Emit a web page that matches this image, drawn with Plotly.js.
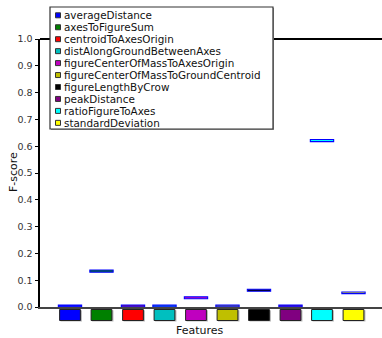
<!DOCTYPE html>
<html>
<head>
<meta charset="utf-8">
<script src="https://cdn.plot.ly/plotly-3.0.1.min.js"></script>
<style>html,body{margin:0;padding:0;background:#fff;}#chart{width:382px;height:338px;}</style>
</head>
<body>
<div id="chart"></div>
<script>
// ---- data ----
const features = ["averageDistance","axesToFigureSum","centroidToAxesOrigin","distAlongGroundBetweenAxes","figureCenterOfMassToAxesOrigin","figureCenterOfMassToGroundCentroid","figureLengthByCrow","peakDistance","ratioFigureToAxes","standardDeviation"];
const colors = ["#0000ff","#008000","#ff0000","#00bfbf","#bf00bf","#bfbf00","#000000","#800080","#00ffff","#ffff00"];
const q1      = [0.001, 0.130, 0.001, 0.001, 0.031, 0.001, 0.059, 0.001, 0.617, 0.050];
const q3      = [0.007, 0.138, 0.007, 0.007, 0.038, 0.007, 0.066, 0.007, 0.625, 0.056];
const yTickVals = [0.0,0.1,0.2,0.3,0.4,0.5,0.6,0.7,0.8,0.9,1.0];
const yTickText = ["0.0","0.1","0.2","0.3","0.4","0.5","0.6","0.7","0.8","0.9","1.0"];

// ---- layout helpers (pixel -> paper) ----
const W = 382, H = 338, L = 40, R = 0, T = 39, B = 31;
const PW = W - L - R, PH = H - T - B;
const px = v => (v - L) / PW;
const py = v => (H - B - v) / PH;
const FONT = "DejaVu Sans, sans-serif";

// interquartile boxes drawn as floating bars (base = q1, height = q3 - q1)
const traces = features.map((f, i) => ({
  type: "bar",
  name: f,
  x: [i + 1],
  base: [q1[i]],
  y: [q3[i] - q1[i]],
  width: 0.74,
  marker: { color: colors[i], line: { color: "#0000ff", width: 1.1 } },
  showlegend: false,
  hoverinfo: "skip"
}));

const shapes = [];
const annotations = [];

// top spine
shapes.push({ type: "line", xref: "paper", yref: "paper", x0: 0, x1: 1, y0: 1, y1: 1, line: { color: "#000", width: 2 } });

// colored patches under x axis
features.forEach((f, i) => {
  shapes.push({ type: "rect", xref: "x", yref: "paper", x0: i + 1 - 0.30, x1: i + 1 + 0.38, y0: py(321.5), y1: py(310.3), fillcolor: "#bbbbbb", line: { width: 0 } });
  shapes.push({ type: "rect", xref: "x", yref: "paper", x0: i + 1 - 0.33, x1: i + 1 + 0.33, y0: py(320.5), y1: py(309.5), fillcolor: colors[i], line: { color: "#222", width: 1 } });
});

// legend frame
shapes.push({ type: "rect", xref: "paper", yref: "paper", x0: px(51), x1: px(274), y0: py(130), y1: py(8), fillcolor: "#999", line: { width: 0 } });
shapes.push({ type: "rect", xref: "paper", yref: "paper", x0: px(50), x1: px(273), y0: py(129), y1: py(7), fillcolor: "#fff", line: { color: "#333", width: 1.2 } });
features.forEach((f, i) => {
  const cy = 15.3 + i * 11.95;
  shapes.push({ type: "rect", xref: "paper", yref: "paper", x0: px(55.5), x1: px(60.5), y0: py(cy + 2.5), y1: py(cy - 2.5), fillcolor: colors[i], line: { color: "#333", width: 1 } });
  annotations.push({ xref: "paper", yref: "paper", x: px(63), y: py(cy), xanchor: "left", yanchor: "middle", text: f, showarrow: false, borderpad: 0, font: { family: FONT, size: 10.4, color: "#111" } });
});

// axis titles
annotations.push({ xref: "paper", yref: "paper", x: px(200), y: py(330), xanchor: "center", yanchor: "middle", text: "Features", showarrow: false, font: { family: FONT, size: 11, color: "#111" } });
annotations.push({ xref: "paper", yref: "paper", x: px(13), y: py(172), xanchor: "center", yanchor: "middle", text: "F-score", textangle: -90, showarrow: false, font: { family: FONT, size: 11, color: "#111" } });

const layout = {
  width: W, height: H,
  margin: { l: L, r: R, t: T, b: B, pad: 0 },
  paper_bgcolor: "#fff", plot_bgcolor: "#fff",
  showlegend: false,
  barmode: "overlay",
  font: { family: FONT, size: 9.5, color: "#333" },
  xaxis: {
    range: [0.0476, 10.905],
    showgrid: false, zeroline: false,
    showticklabels: false, ticks: "",
    showline: true, linecolor: "#444", linewidth: 1.5
  },
  yaxis: {
    range: [0, 1],
    tickvals: yTickVals, ticktext: yTickText,
    ticks: "outside", ticklen: 3.5, tickwidth: 1, tickcolor: "#000",
    showgrid: false, zeroline: false,
    showline: true, linecolor: "#000", linewidth: 2,
    tickfont: { family: FONT, size: 9.5, color: "#333" }
  },
  yaxis2: {
    overlaying: "y", side: "right", anchor: "x",
    range: [0, 1],
    tickvals: yTickVals, showticklabels: false,
    ticks: "inside", ticklen: 2.5, tickwidth: 1, tickcolor: "#aaa",
    showgrid: false, zeroline: false, showline: false
  },
  shapes: shapes,
  annotations: annotations
};

Plotly.newPlot("chart", traces, layout, { displayModeBar: false, staticPlot: true });
</script>
</body>
</html>
